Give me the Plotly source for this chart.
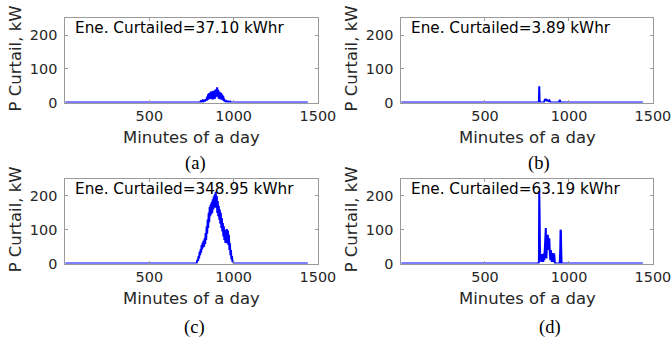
import plotly.graph_objects as go

# ---------------- data ----------------
minutes_a = [1, 790, 795, 800, 805, 810, 815, 820, 825, 830, 835, 840, 843, 846, 849, 852, 855, 858,
             861, 864, 867, 870, 873, 876, 879, 882, 885, 888, 891, 894, 897, 900, 902, 905, 908,
             911, 914, 917, 920, 923, 926, 929, 932, 935, 938, 941, 944, 947, 950, 953, 958, 962,
             968, 972, 980, 985, 1440]
power_a = [0, 0, 2, 1, 4, 2, 6, 3, 8, 4, 10, 6, 18, 8, 25, 12, 28, 10,
           30, 14, 33, 12, 30, 9, 35, 15, 32, 11, 38, 16, 40, 20, 45, 18, 38,
           12, 33, 10, 30, 14, 28, 9, 24, 8, 20, 5, 12, 3, 6, 1, 4, 0,
           5, 0, 3, 0, 0]

minutes_b = [1, 818, 821, 823, 825, 827, 830, 850, 855, 858, 861, 864, 867, 870, 873, 876, 880,
             884, 888, 892, 940, 944, 946, 948, 952, 1440]
power_b = [0, 0, 3, 48, 8, 2, 0, 0, 4, 10, 6, 11, 5, 9, 4, 7, 3,
           6, 2, 0, 0, 4, 8, 3, 0, 0]

minutes_c = [1, 780, 783, 786, 789, 792, 795, 798, 801, 804, 807, 810, 813, 816, 819, 822, 825,
             828, 831, 834, 837, 840, 843, 846, 849, 852, 855, 858, 861, 864, 867, 870, 873,
             876, 879, 882, 885, 888, 891, 894, 897, 900, 903, 906, 909, 912, 915, 918, 921,
             924, 927, 930, 933, 936, 939, 942, 945, 948, 951, 954, 957, 960, 963, 966, 969,
             972, 975, 978, 981, 984, 987, 990, 993, 996, 999, 1002, 1440]
power_c = [0, 0, 5, 12, 8, 22, 15, 35, 25, 42, 32, 55, 42, 62, 48, 68, 50,
           75, 58, 90, 70, 110, 88, 130, 105, 150, 122, 168, 140, 175, 145, 182, 150,
           190, 160, 198, 165, 205, 170, 212, 165, 200, 150, 185, 140, 170, 130, 160, 118,
           150, 105, 135, 95, 120, 80, 110, 70, 100, 62, 95, 60, 102, 70, 98, 55,
           85, 40, 60, 25, 40, 12, 22, 5, 8, 2, 0, 0]

minutes_d = [1, 818, 821, 823, 825, 827, 829, 832, 835, 838, 841, 844, 847, 850, 853, 856, 859,
             862, 864, 866, 869, 872, 875, 877, 880, 883, 886, 889, 892, 895, 898, 901, 904,
             907, 910, 913, 916, 945, 948, 950, 952, 954, 956, 1440]
power_d = [0, 0, 5, 215, 150, 60, 10, 25, 5, 28, 8, 20, 5, 30, 10, 60, 100,
           105, 40, 15, 60, 85, 80, 40, 70, 75, 30, 10, 40, 20, 5, 30, 28,
           5, 30, 25, 0, 0, 40, 100, 95, 40, 0, 0]

energy_labels = ["Ene. Curtailed=37.10 kWhr", "Ene. Curtailed=3.89 kWhr",
                 "Ene. Curtailed=348.95 kWhr", "Ene. Curtailed=63.19 kWhr"]
panel_labels = ["(a)", "(b)", "(c)", "(d)"]
x_tick_vals = [500, 1000, 1500]
y_tick_vals = [0, 100, 200]
x_title = "Minutes of a day"
y_title = "P Curtail, kW"

# ---------------- layout ----------------
REF_W, REF_H = 671, 339
K = 1.03                       # the page is photographed at ~97 %, so draw a little larger
W, H = int(REF_W * K), int(REF_H * K)
def px(x):
    return x / REF_W
def py(y):
    return 1 - y / REF_H
def fs(s):
    return s * K

boxes = [(65, 317, 18, 102), (400, 651, 18, 102), (65, 317, 178, 262), (400, 651, 178, 262)]
series = [(minutes_a, power_a), (minutes_b, power_b), (minutes_c, power_c), (minutes_d, power_d)]
label_pos = [(195, 162), (537, 162), (194, 325), (548, 325)]

fig = go.Figure()
axis_grey = "#9a9a9a"
text_col = "#262626"
font_main = "DejaVu Sans"
annotations = []

for i, ((l, r, t, b), (xs, ys)) in enumerate(zip(boxes, series)):
    n = i + 1
    xa = "x" if n == 1 else f"x{n}"
    ya = "y" if n == 1 else f"y{n}"
    fig.add_trace(go.Scatter(x=xs, y=ys, mode="lines", xaxis=xa, yaxis=ya,
                             line=dict(color="#0000ff", width=2), cliponaxis=False,
                             showlegend=False, hoverinfo="skip"))
    common = dict(showgrid=False, zeroline=False, showline=True, linecolor=axis_grey,
                  linewidth=1, mirror="ticks", ticks="inside", ticklen=3, tickcolor=axis_grey,
                  tickfont=dict(family=font_main, size=fs(14), color=text_col))
    fig.update_layout(**{
        ("xaxis" if n == 1 else f"xaxis{n}"): dict(domain=[px(l), px(r)], range=[1, 1500],
                                                   tickvals=x_tick_vals, anchor=ya, **common),
        ("yaxis" if n == 1 else f"yaxis{n}"): dict(domain=[py(b), py(t)], range=[0, 250],
                                                   tickvals=y_tick_vals, anchor=xa,
                                                   ticklabelstandoff=4, **common),
    })
    annotations.append(dict(x=px(l + 8), y=py(t + 10), xref="paper", yref="paper",
                            xanchor="left", yanchor="middle", showarrow=False,
                            text=energy_labels[i],
                            font=dict(family=font_main, size=fs(14.8), color="#000000")))
    annotations.append(dict(x=px((l + r) / 2), y=py(b + 35), xref="paper", yref="paper",
                            xanchor="center", yanchor="middle", showarrow=False, text=x_title,
                            font=dict(family=font_main, size=fs(16), color=text_col)))
    annotations.append(dict(x=px(l - 50), y=py((t + b) / 2 - 2), xref="paper", yref="paper",
                            xanchor="center", yanchor="middle", showarrow=False, text=y_title,
                            textangle=-90,
                            font=dict(family=font_main, size=fs(16), color=text_col)))
    lx, ly = label_pos[i]
    annotations.append(dict(x=px(lx), y=py(ly), xref="paper", yref="paper",
                            xanchor="center", yanchor="middle", showarrow=False,
                            text=panel_labels[i],
                            font=dict(family="Liberation Serif", size=fs(18), color="#000000")))

fig.update_layout(width=W, height=H, margin=dict(l=0, r=0, t=0, b=0),
                  paper_bgcolor="white", plot_bgcolor="white", annotations=annotations)

fig.write_html("out.html",
               post_script="document.body.style.margin='0';document.body.style.overflow='hidden';")
